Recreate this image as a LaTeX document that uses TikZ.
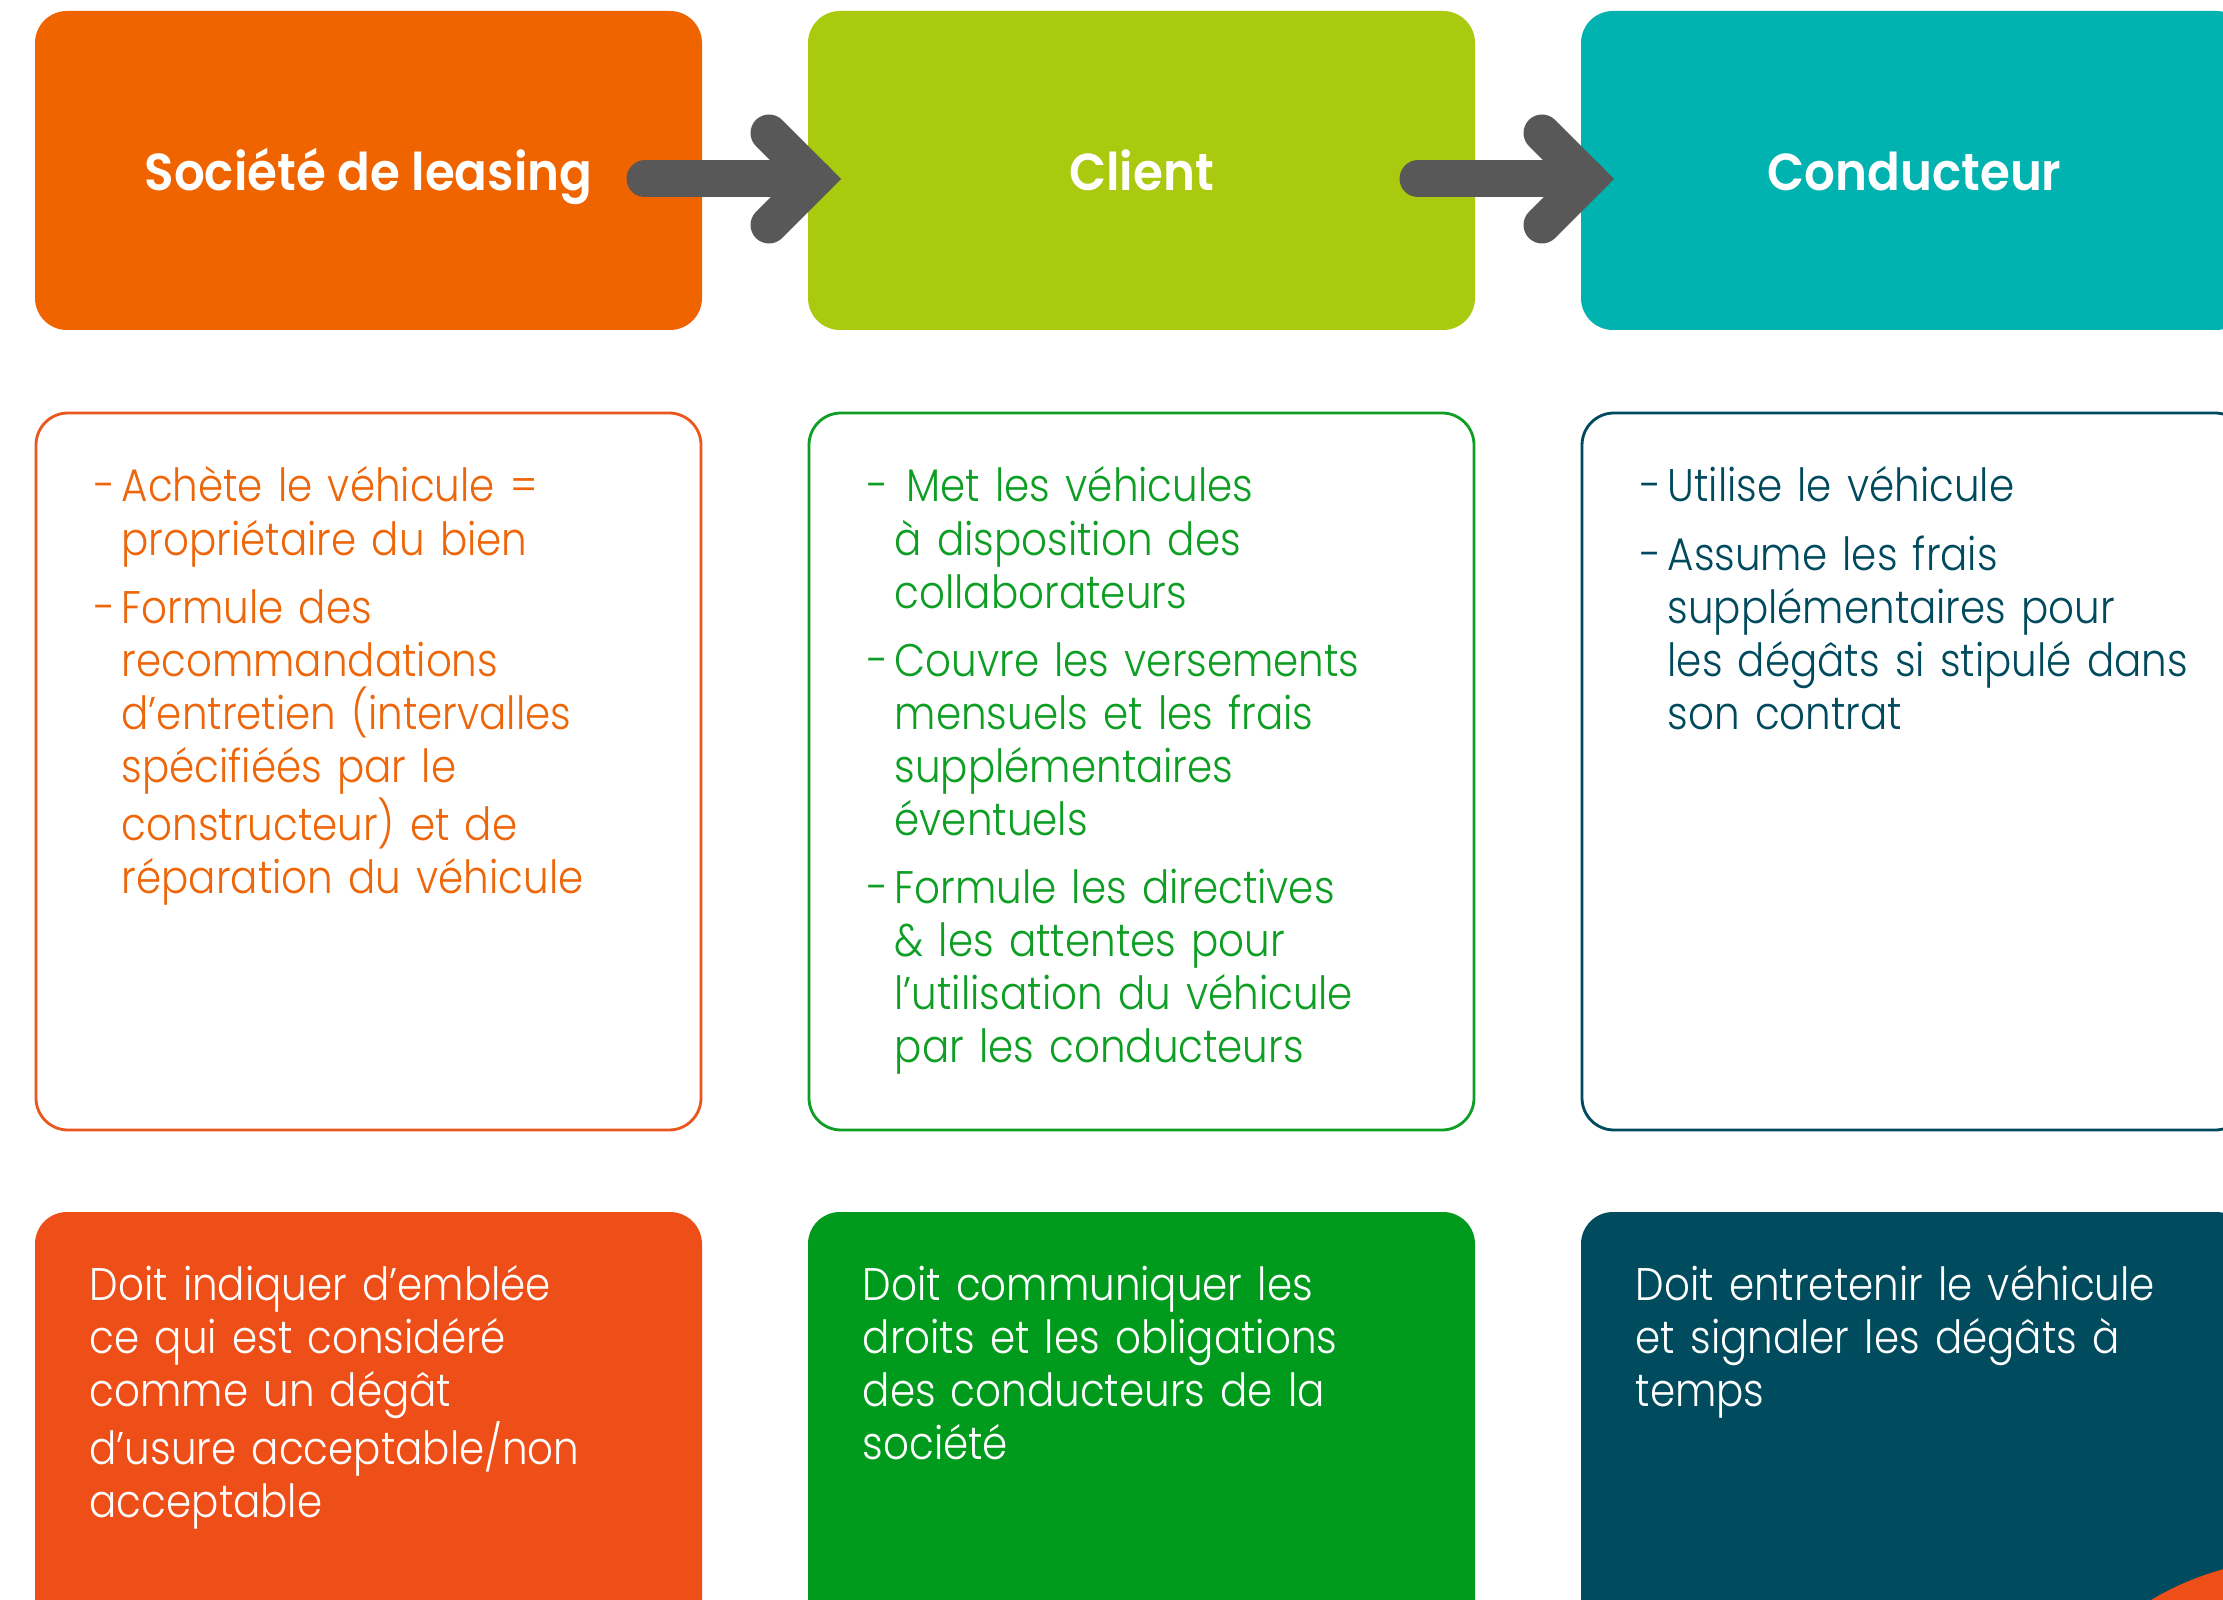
\documentclass[tikz,border=0pt]{standalone}
\usepackage{fontspec}
\setmainfont{Poppins}[UprightFont=* Light, BoldFont=* SemiBold, FakeStretch=0.885,
    BoldFeatures={FakeStretch=0.93}]
\usepackage{tikz}
\usetikzlibrary{positioning}

\definecolor{leasingorange}{HTML}{F06400}
\definecolor{clientlime}{HTML}{AACA0F}
\definecolor{conducteurteal}{HTML}{00B2B0}
\definecolor{flechegris}{HTML}{575857}
\definecolor{lignorange}{HTML}{EA561C}
\definecolor{texteorange}{HTML}{EE660A}
\definecolor{lignvert}{HTML}{0E9E24}
\definecolor{lignpetrole}{HTML}{004A5E}
\definecolor{fondrouge}{HTML}{EE4E17}
\definecolor{fondvert}{HTML}{009A1D}
\definecolor{fondpetrole}{HTML}{004B5D}

\tikzset{titlebox/.style={rectangle,rounded corners=0.32cm,minimum width=6.67cm,minimum height=3.19cm,
        inner sep=0,outer sep=0,text=white,text height=0.40cm,text depth=0pt,
        font=\fontsize{14.8pt}{17pt}\selectfont\bfseries},
    rolebox/.style={rectangle,draw,line width=0.8pt,rounded corners=0.32cm,minimum width=6.65cm,
        minimum height=7.17cm,inner sep=0,outer sep=0},
    dutybox/.style={rectangle,rounded corners=0.32cm,minimum width=6.67cm,minimum height=5cm,
        inner sep=0,outer sep=0},
    bodytext/.style={anchor=base west,inner sep=0,text width=6cm,align=left,
        font=\fontsize{13pt}{15.1pt}\selectfont},
    fleche/.style={flechegris,line width=0.37cm,line cap=round},
    pointe/.style={flechegris,line width=0.37cm,line cap=round,line join=miter}
}

% hanging dash for the list items
\newlength{\tiretw}
\setlength{\tiretw}{0.27cm}
\newcommand{\tiret}[1]{\hangindent=\tiretw\hangafter=1\noindent\makebox[\tiretw][l]{-}#1\par}

\begin{document}
\begin{tikzpicture}

\useasboundingbox (0,0) rectangle (22.23,-16);
\clip (0,0) rectangle (22.23,-16);
\fill [white] (0,0) rectangle (22.23,-16);

% header row
\node (societe) [titlebox,fill=leasingorange] at (3.685,-1.705) {Société de leasing};
\node (client) [titlebox,fill=clientlime,right=1.06cm of societe] {Client};
\node (conducteur) [titlebox,fill=conducteurteal,right=1.06cm of client] {Conducteur};

% arrows between the headers
\draw [fleche] ([shift={(-0.57,-0.085)}]societe.east) -- ([shift={(0.07,-0.085)}]client.west);
\draw [pointe] ([shift={(-0.39,0.375)}]client.west) -- ([shift={(0.07,-0.085)}]client.west)
    -- ([shift={(-0.39,-0.545)}]client.west);
\draw [fleche] ([shift={(-0.57,-0.085)}]client.east) -- ([shift={(0.07,-0.085)}]conducteur.west);
\draw [pointe] ([shift={(-0.39,0.375)}]conducteur.west) -- ([shift={(0.07,-0.085)}]conducteur.west)
    -- ([shift={(-0.39,-0.545)}]conducteur.west);

% role of each party
\node (societeRole) [rolebox,draw=lignorange,below=0.83cm of societe] {};
\node (clientRole) [rolebox,draw=lignvert,below=0.83cm of client] {};
\node (conducteurRole) [rolebox,draw=lignpetrole,below=0.83cm of conducteur] {};

\node (societeTxt) [bodytext,text=texteorange] at ([shift={(0.58,-0.89)}]societeRole.north west) {%
    \setlength{\parskip}{4.3pt}%
    \tiret{Achète le véhicule =\newline propriétaire du bien}%
    \tiret{Formule des\newline recommandations\newline d’entretien (intervalles\newline
        spécifiéés par le\newline constructeur) et de\newline réparation du véhicule}};

\node (clientTxt) [bodytext,text=lignvert] at ([shift={(0.58,-0.89)}]clientRole.north west) {%
    \setlength{\parskip}{4.3pt}%
    \tiret{\hspace{0.12cm}Met les véhicules\newline à disposition des\newline collaborateurs}%
    \tiret{Couvre les versements\newline mensuels et les frais\newline supplémentaires\newline éventuels}%
    \tiret{Formule les directives\newline \& les attentes pour\newline l’utilisation du véhicule\newline
        par les conducteurs}};

\node (conducteurTxt) [bodytext,text=lignpetrole] at ([shift={(0.58,-0.89)}]conducteurRole.north west) {%
    \setlength{\parskip}{4.3pt}%
    \tiret{Utilise le véhicule}%
    \tiret{Assume les frais\newline supplémentaires pour\newline les dégâts si stipulé dans\newline
        son contrat}};

% obligations
\node (societeDuty) [dutybox,fill=fondrouge,below=0.82cm of societeRole] {};
\node (clientDuty) [dutybox,fill=fondvert,below=0.82cm of clientRole] {};
\node (conducteurDuty) [dutybox,fill=fondpetrole,below=0.82cm of conducteurRole] {};

\node [bodytext,text=white] at ([shift={(0.54,-0.88)}]societeDuty.north west)
    {Doit indiquer d’emblée\\ ce qui est considéré\\ comme un dégât\\ d’usure acceptable/non\\ acceptable};
\node [bodytext,text=white] at ([shift={(0.54,-0.88)}]clientDuty.north west)
    {Doit communiquer les\\ droits et les obligations\\ des conducteurs de la\\ société};
\node [bodytext,text=white] at ([shift={(0.54,-0.88)}]conducteurDuty.north west)
    {Doit entretenir le véhicule\\ et signaler les dégâts à\\ temps};

% corner disc
\fill [fondrouge] (23.00,-18.50) circle (2.91);

\end{tikzpicture}
\end{document}
